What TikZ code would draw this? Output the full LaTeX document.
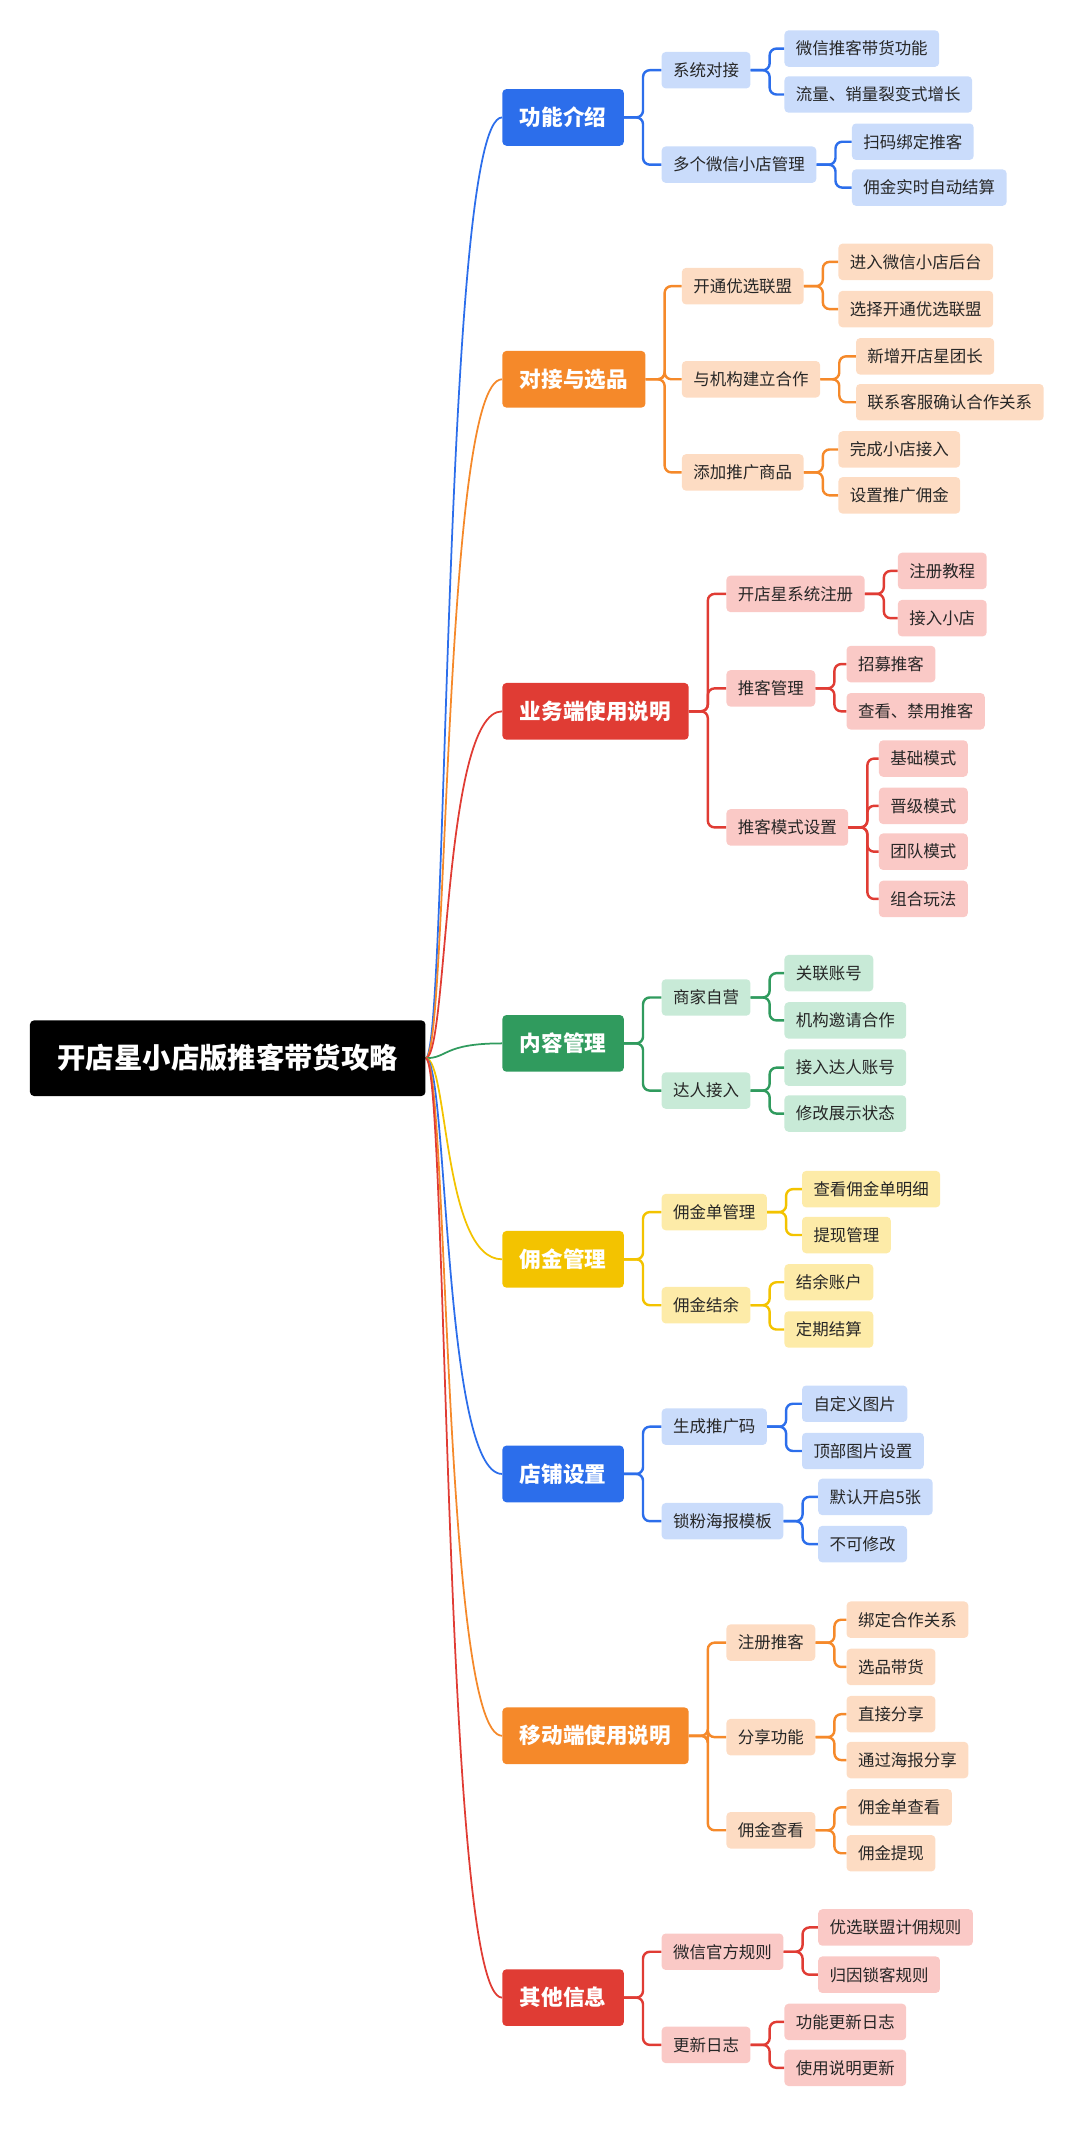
\documentclass[tikz,border=0pt]{standalone}
\usepackage{fontspec}
\setmainfont{Noto Sans CJK SC}
\usetikzlibrary{backgrounds}
\begin{document}
\begin{tikzpicture}[x=1pt,y=-1pt,
 root/.style={fill=black,text=white,rounded corners=3pt,font=\fontsize{21}{25}\selectfont\bfseries,minimum height=56pt,minimum width=293pt,anchor=west},
 l1/.style={fill=#1,text=white,rounded corners=3pt,font=\fontsize{16}{19}\selectfont\bfseries,minimum height=42pt,inner xsep=13pt,anchor=west},
 l2/.style={fill=#1,text=black!85,rounded corners=3pt,font=\fontsize{12.2}{14}\selectfont,minimum height=27pt,inner xsep=8.5pt,anchor=west},
 c1/.style={draw=#1,line width=1.3pt},
 c2/.style={draw=#1,line width=1.8pt,rounded corners=5pt},
]
\definecolor{cb}{HTML}{2C6EEB}\definecolor{lb}{HTML}{CADCFB}
\definecolor{co}{HTML}{F5892A}\definecolor{lo}{HTML}{FDDCC3}
\definecolor{cr}{HTML}{E03C34}\definecolor{lr}{HTML}{FAC9C6}
\definecolor{cg}{HTML}{309B5E}\definecolor{lg}{HTML}{C8EAD7}
\definecolor{cy}{HTML}{F3C300}\definecolor{ly}{HTML}{FDEBA8}
\useasboundingbox (0,0) rectangle (800,1584);
\newcommand\rb[3]{\draw[c2=#1] (#2.east) -- ++(14,0) |- (#3.west);}
\newcommand\rc[2]{\begin{pgfonlayer}{background}\draw[c1=#1] (R.east) .. controls (332,784) and (328,0|-#2.west) .. (#2.west);\end{pgfonlayer}}

\node[root] (R) at (22,784) {开店星小店版推客带货攻略};
% level 1
\node[l1=cb] (A) at (372,87) {功能介绍};
\node[l1=co] (B) at (372,281) {对接与选品};
\node[l1=cr] (C) at (372,527) {业务端使用说明};
\node[l1=cg] (D) at (372,773) {内容管理};
\node[l1=cy] (E) at (372,933) {佣金管理};
\node[l1=cb] (F) at (372,1092) {店铺设置};
\node[l1=co] (G) at (372,1286) {移动端使用说明};
\node[l1=cr] (H) at (372,1480) {其他信息};

\rc{cb}{A}\rc{co}{B}\rc{cr}{C}\rc{cg}{D}
\rc{cy}{E}\rc{cb}{F}\rc{co}{G}\rc{cr}{H}

% A
\node[l2=lb] (A1) at (490,52) {系统对接};
\node[l2=lb] (A2) at (490,122) {多个微信小店管理};
\node[l2=lb] (A11) at (581,36) {微信推客带货功能};
\node[l2=lb] (A12) at (581,70) {流量、销量裂变式增长};
\node[l2=lb] (A21) at (631,105) {扫码绑定推客};
\node[l2=lb] (A22) at (631,139) {佣金实时自动结算};
\rb{cb}{A}{A1}\rb{cb}{A}{A2}\rb{cb}{A1}{A11}\rb{cb}{A1}{A12}\rb{cb}{A2}{A21}\rb{cb}{A2}{A22}
% B
\node[l2=lo] (B1) at (505,212) {开通优选联盟};
\node[l2=lo] (B2) at (505,281) {与机构建立合作};
\node[l2=lo] (B3) at (505,350) {添加推广商品};
\node[l2=lo] (B11) at (621,194) {进入微信小店后台};
\node[l2=lo] (B12) at (621,229) {选择开通优选联盟};
\node[l2=lo] (B21) at (634,264) {新增开店星团长};
\node[l2=lo] (B22) at (634,298) {联系客服确认合作关系};
\node[l2=lo] (B31) at (621,333) {完成小店接入};
\node[l2=lo] (B32) at (621,367) {设置推广佣金};
\rb{co}{B}{B1}\rb{co}{B}{B2}\rb{co}{B}{B3}
\rb{co}{B1}{B11}\rb{co}{B1}{B12}\rb{co}{B2}{B21}\rb{co}{B2}{B22}\rb{co}{B3}{B31}\rb{co}{B3}{B32}
% C
\node[l2=lr] (C1) at (538,440) {开店星系统注册};
\node[l2=lr] (C2) at (538,510) {推客管理};
\node[l2=lr] (C3) at (538,613) {推客模式设置};
\node[l2=lr] (C11) at (665,423) {注册教程};
\node[l2=lr] (C12) at (665,458) {接入小店};
\node[l2=lr] (C21) at (627,492) {招募推客};
\node[l2=lr] (C22) at (627,527) {查看、禁用推客};
\node[l2=lr] (C31) at (651,562) {基础模式};
\node[l2=lr] (C32) at (651,597) {晋级模式};
\node[l2=lr] (C33) at (651,631) {团队模式};
\node[l2=lr] (C34) at (651,666) {组合玩法};
\rb{cr}{C}{C1}\rb{cr}{C}{C2}\rb{cr}{C}{C3}
\rb{cr}{C1}{C11}\rb{cr}{C1}{C12}\rb{cr}{C2}{C21}\rb{cr}{C2}{C22}
\rb{cr}{C3}{C31}\rb{cr}{C3}{C32}\rb{cr}{C3}{C33}\rb{cr}{C3}{C34}
% D
\node[l2=lg] (D1) at (490,739) {商家自营};
\node[l2=lg] (D2) at (490,808) {达人接入};
\node[l2=lg] (D11) at (581,721) {关联账号};
\node[l2=lg] (D12) at (581,756) {机构邀请合作};
\node[l2=lg] (D21) at (581,791) {接入达人账号};
\node[l2=lg] (D22) at (581,825) {修改展示状态};
\rb{cg}{D}{D1}\rb{cg}{D}{D2}\rb{cg}{D1}{D11}\rb{cg}{D1}{D12}\rb{cg}{D2}{D21}\rb{cg}{D2}{D22}
% E
\node[l2=ly] (E1) at (490,898) {佣金单管理};
\node[l2=ly] (E2) at (490,967) {佣金结余};
\node[l2=ly] (E11) at (594,881) {查看佣金单明细};
\node[l2=ly] (E12) at (594,915) {提现管理};
\node[l2=ly] (E21) at (581,950) {结余账户};
\node[l2=ly] (E22) at (581,985) {定期结算};
\rb{cy}{E}{E1}\rb{cy}{E}{E2}\rb{cy}{E1}{E11}\rb{cy}{E1}{E12}\rb{cy}{E2}{E21}\rb{cy}{E2}{E22}
% F
\node[l2=lb] (F1) at (490,1057) {生成推广码};
\node[l2=lb] (F2) at (490,1127) {锁粉海报模板};
\node[l2=lb] (F11) at (594,1040) {自定义图片};
\node[l2=lb] (F12) at (594,1075) {顶部图片设置};
\node[l2=lb] (F21) at (606,1109) {默认开启5张};
\node[l2=lb] (F22) at (606,1144) {不可修改};
\rb{cb}{F}{F1}\rb{cb}{F}{F2}\rb{cb}{F1}{F11}\rb{cb}{F1}{F12}\rb{cb}{F2}{F21}\rb{cb}{F2}{F22}
% G
\node[l2=lo] (G1) at (538,1217) {注册推客};
\node[l2=lo] (G2) at (538,1287) {分享功能};
\node[l2=lo] (G3) at (538,1356) {佣金查看};
\node[l2=lo] (G11) at (627,1200) {绑定合作关系};
\node[l2=lo] (G12) at (627,1235) {选品带货};
\node[l2=lo] (G21) at (627,1270) {直接分享};
\node[l2=lo] (G22) at (627,1304) {通过海报分享};
\node[l2=lo] (G31) at (627,1339) {佣金单查看};
\node[l2=lo] (G32) at (627,1373) {佣金提现};
\rb{co}{G}{G1}\rb{co}{G}{G2}\rb{co}{G}{G3}
\rb{co}{G1}{G11}\rb{co}{G1}{G12}\rb{co}{G2}{G21}\rb{co}{G2}{G22}\rb{co}{G3}{G31}\rb{co}{G3}{G32}
% H
\node[l2=lr] (H1) at (490,1446) {微信官方规则};
\node[l2=lr] (H2) at (490,1515) {更新日志};
\node[l2=lr] (H11) at (606,1428) {优选联盟计佣规则};
\node[l2=lr] (H12) at (606,1463) {归因锁客规则};
\node[l2=lr] (H21) at (581,1498) {功能更新日志};
\node[l2=lr] (H22) at (581,1532) {使用说明更新};
\rb{cr}{H}{H1}\rb{cr}{H}{H2}\rb{cr}{H1}{H11}\rb{cr}{H1}{H12}\rb{cr}{H2}{H21}\rb{cr}{H2}{H22}
\end{tikzpicture}
\end{document}
